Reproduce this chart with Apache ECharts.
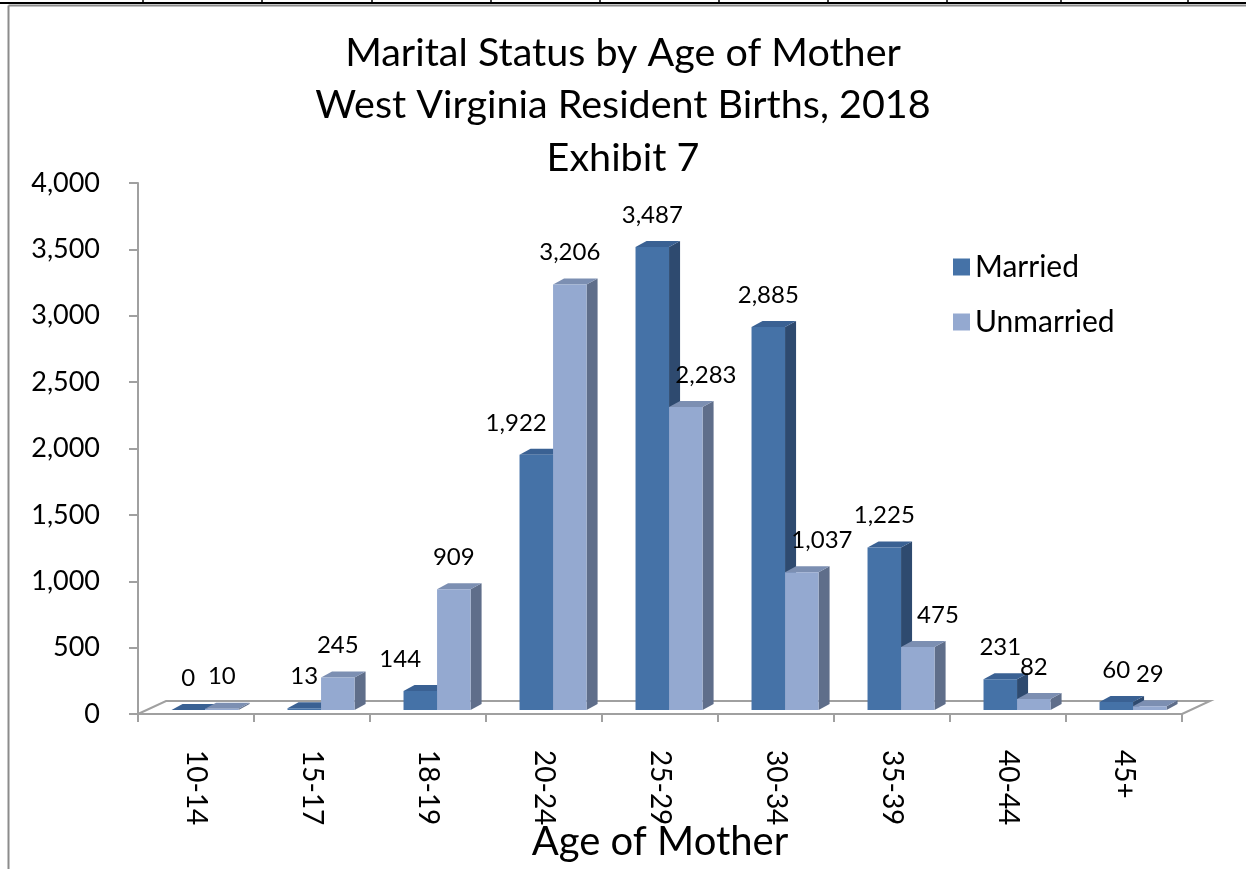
<!DOCTYPE html>
<html>
<head>
<meta charset="utf-8">
<script src="https://cdn.jsdelivr.net/npm/echarts@6/dist/echarts.min.js"></script>
<style>
  html, body { margin: 0; padding: 0; background: #fff; overflow: hidden; }
  #chart { width: 1246px; height: 869px; }
</style>
</head>
<body>
<div id="chart"></div>
<script>
const ageGroups = ['10-14', '15-17', '18-19', '20-24', '25-29', '30-34', '35-39', '40-44', '45+'];
const married = [0, 13, 144, 1922, 3487, 2885, 1225, 231, 60];
const unmarried = [10, 245, 909, 3206, 2283, 1037, 475, 82, 29];
const yTicks = [0, 500, 1000, 1500, 2000, 2500, 3000, 3500, 4000];

const FONT = 'Lato';

// geometry of one box bar, shared by the faces and the label
function barGeom(api, slot, idx, val) {
  const cw = api.size([1, 0])[0];
  const c = api.coord([idx, 0]);
  const t = api.coord([idx, val]);
  const bw = cw * 0.289;
  const x0 = c[0] - cw * 0.211 + slot * bw;
  return { bw: bw, x0: x0, yb: c[1] - 4, yt: t[1] - 4, dx: cw * 0.095, dy: 6 };
}

function makeBar(slot, front, top, side) {
  return function (params, api) {
    const g = barGeom(api, slot, api.value(0), api.value(1));
    const x0 = g.x0, bw = g.bw, yt = g.yt, yb = g.yb, dx = g.dx, dy = g.dy;
    return {
      type: 'group',
      children: [
        { type: 'polygon', shape: { points: [[x0 + bw, yt], [x0 + bw + dx, yt - dy], [x0 + bw + dx, yb - dy], [x0 + bw, yb]] }, style: { fill: side } },
        { type: 'polygon', shape: { points: [[x0, yt], [x0 + dx, yt - dy], [x0 + bw + dx, yt - dy], [x0 + bw, yt]] }, style: { fill: top } },
        { type: 'rect', shape: { x: x0, y: yt, width: bw, height: yb - yt }, style: { fill: front } }
      ]
    };
  };
}

// value labels, pushed sideways when the neighbouring bar rises past them
function makeLabels(slot, own, other) {
  return function (params, api) {
    const i = api.value(0);
    const g = barGeom(api, slot, i, own[i]);
    const n = barGeom(api, 1 - slot, i, other[i]);
    const ly = g.yt - g.dy - 26;
    let lx = g.x0 + g.bw / 2;
    if (n.yt - n.dy < ly - 10) lx += (slot === 0 ? -1 : 1) * g.bw * 0.6;
    return {
      type: 'text', x: lx, y: ly,
      style: { text: own[i].toLocaleString('en-US'), fill: '#000', font: '24px ' + FONT, align: 'center', verticalAlign: 'middle' }
    };
  };
}

function renderFloor(params, api) {
  const cs = params.coordSys;
  const x = cs.x, yb = cs.y + cs.height, w = cs.width;
  const dx = 28, dy = 13;
  return {
    type: 'polyline',
    shape: { points: [[x, yb], [x + dx, yb - dy], [x + w + dx, yb - dy], [x + w, yb]] },
    style: { stroke: '#a0a0a0', lineWidth: 2, fill: null }
  };
}

const frameLines = [];
[143, 262, 372, 491, 600, 719, 828, 947, 1061, 1188].forEach(function (x) {
  frameLines.push({ type: 'line', shape: { x1: x, y1: 0, x2: x, y2: 3 }, style: { stroke: '#000', lineWidth: 1.5 } });
});

const option = {
  backgroundColor: '#fff',
  animation: false,
  textStyle: { fontFamily: FONT },
  title: {
    text: 'Marital Status by Age of Mother\nWest Virginia Resident Births, 2018\nExhibit 7',
    left: 'center',
    top: 22,
    textStyle: { fontFamily: FONT, fontSize: 39.5, fontWeight: 'normal', color: '#000', lineHeight: 52.5 }
  },
  legend: {
    orient: 'vertical',
    left: 948,
    top: 247,
    icon: 'rect',
    itemWidth: 17,
    itemHeight: 17,
    itemGap: 25,
    textStyle: { fontFamily: FONT, fontSize: 30, color: '#000', lineHeight: 30, padding: [0, 0, 0, 0] },
    data: ['Married', 'Unmarried']
  },
  grid: { left: 138, right: 64, top: 183, height: 531, containLabel: false, outerBoundsMode: 'none' },
  xAxis: {
    type: 'category',
    data: ageGroups,
    boundaryGap: true,
    name: 'Age of Mother',
    nameLocation: 'middle',
    nameGap: 108,
    nameMoveOverlap: false,
    nameTextStyle: { fontFamily: FONT, fontSize: 40, color: '#000' },
    axisLine: { lineStyle: { color: '#a0a0a0', width: 2 } },
    axisTick: { show: true, length: 8, lineStyle: { color: '#a0a0a0', width: 2 } },
    axisLabel: { rotate: -90, margin: 36, fontFamily: FONT, fontSize: 28, color: '#000', interval: 0 },
    splitLine: { show: false }
  },
  yAxis: {
    type: 'value',
    min: 0,
    max: 4000,
    interval: 500,
    axisLine: { show: true, lineStyle: { color: '#a0a0a0', width: 2 } },
    axisTick: { show: true, length: 9, lineStyle: { color: '#a0a0a0', width: 2 } },
    axisLabel: {
      margin: 38, fontFamily: FONT, fontSize: 27, color: '#000',
      formatter: function (v) { return yTicks.indexOf(v) >= 0 ? v.toLocaleString('en-US') : ''; }
    },
    splitLine: { show: false }
  },
  series: [
    { name: 'floor', type: 'custom', renderItem: renderFloor, data: [[0, 0]], silent: true, z: 1 },
    {
      name: 'Married', type: 'custom',
      itemStyle: { color: '#4572A7' },
      renderItem: makeBar(0, '#4572A7', '#3A6193', '#2E4A6F'),
      data: married.map(function (v, i) { return [i, v]; }), z: 3
    },
    {
      name: 'Unmarried', type: 'custom',
      itemStyle: { color: '#94A9D0' },
      renderItem: makeBar(1, '#94A9D0', '#7C8FB2', '#5F6E8A'),
      data: unmarried.map(function (v, i) { return [i, v]; }), z: 3
    },
    {
      name: 'labels-married', type: 'custom', silent: true, z: 6,
      renderItem: makeLabels(0, married, unmarried),
      data: married.map(function (v, i) { return [i, v]; })
    },
    {
      name: 'labels-unmarried', type: 'custom', silent: true, z: 6,
      renderItem: makeLabels(1, unmarried, married),
      data: unmarried.map(function (v, i) { return [i, v]; })
    }
  ],
  graphic: [
    { type: 'line', shape: { x1: 0, y1: 3, x2: 1246, y2: 3 }, style: { stroke: '#000', lineWidth: 2 } },
    { type: 'line', shape: { x1: 8.5, y1: 5.5, x2: 1246, y2: 5.5 }, style: { stroke: '#8c8c8c', lineWidth: 2 } },
    { type: 'line', shape: { x1: 8.5, y1: 5.5, x2: 8.5, y2: 869 }, style: { stroke: '#8c8c8c', lineWidth: 2 } }
  ].concat(frameLines)
};

const chart = echarts.init(document.getElementById('chart'));
chart.setOption(option);
</script>
</body>
</html>
